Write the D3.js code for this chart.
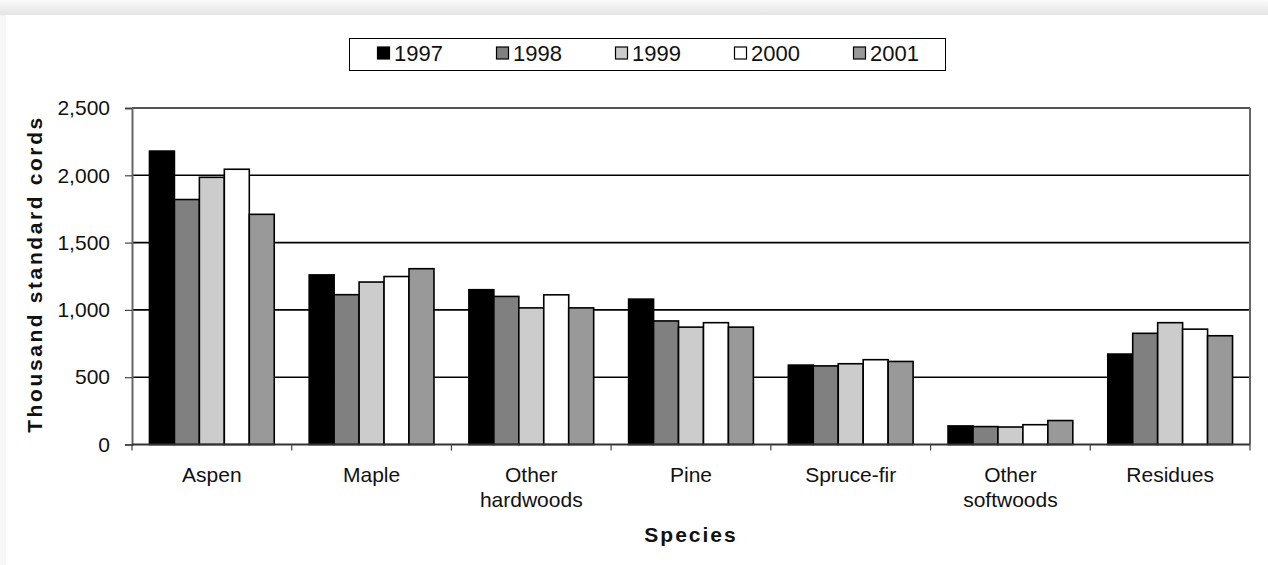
<!DOCTYPE html>
<html><head><meta charset="utf-8">
<script src="https://cdn.jsdelivr.net/npm/d3@7"></script>
<style>
html,body{margin:0;padding:0;background:#fff;}
svg{display:block;font-family:"Liberation Sans",Arial,sans-serif;}
</style></head>
<body><svg id="c" width="1268" height="565"></svg>
<script>
const categories = [["Aspen"],["Maple"],["Other","hardwoods"],["Pine"],["Spruce-fir"],["Other","softwoods"],["Residues"]];
const years = ["1997","1998","1999","2000","2001"];
const v1997 = [2180, 1260, 1150, 1080, 590, 138, 672];
const v1998 = [1820, 1113, 1100, 918, 584, 133, 826];
const v1999 = [1985, 1207, 1015, 872, 600, 130, 905];
const v2000 = [2045, 1248, 1112, 905, 630, 147, 857];
const v2001 = [1710, 1306, 1015, 872, 617, 178, 808];
const yTicks = [0, 500, 1000, 1500, 2000, 2500];
const colors = ["#000000","#808080","#cccccc","#ffffff","#999999"];

const series = [v1997, v1998, v1999, v2000, v2001];
const catKeys = categories.map(c => c.join(" "));

const svg = d3.select("#c");
const defs = svg.append("defs");
const g1 = defs.append("linearGradient").attr("id","topShade").attr("x1",0).attr("x2",0).attr("y1",0).attr("y2",1);
g1.append("stop").attr("offset","0%").attr("stop-color","#fbfbfb");
g1.append("stop").attr("offset","100%").attr("stop-color","#e4e4e4");
svg.append("rect").attr("x",0).attr("y",0).attr("width",1268).attr("height",565).attr("fill","#f6f6f6");
svg.append("rect").attr("x",0).attr("y",0).attr("width",1268).attr("height",15).attr("fill","url(#topShade)");
svg.append("rect").attr("x",6).attr("y",15).attr("width",1262).attr("height",550).attr("fill","#ffffff");

const pLeft = 132, pRight = 1250, pTop = 108, pBottom = 444.5;
const x = d3.scaleBand().domain(catKeys).range([pLeft, pRight]).paddingInner(0).paddingOuter(0);
const bw = x.bandwidth();
const barW = bw / 6.4;
const xi = d3.scaleBand().domain(years).range([(bw - 5*barW)/2, (bw + 5*barW)/2]);
const y = d3.scaleLinear().domain([0, 2500]).range([pBottom, pTop]);

// gridlines
svg.append("g").selectAll("line").data(yTicks.filter(t => t > 0 && t < 2500)).join("line")
  .attr("x1", pLeft).attr("x2", pRight).attr("y1", d => y(d)).attr("y2", d => y(d))
  .attr("stroke", "#000").attr("stroke-width", 1.6);

// plot border top & right
svg.append("line").attr("x1",pLeft).attr("x2",pRight).attr("y1",pTop).attr("y2",pTop).attr("stroke","#555").attr("stroke-width",2);
svg.append("line").attr("x1",pRight).attr("x2",pRight).attr("y1",pTop).attr("y2",pBottom).attr("stroke","#666").attr("stroke-width",2);

// bars
const groups = svg.append("g").selectAll("g").data(catKeys).join("g")
  .attr("transform", d => `translate(${x(d)},0)`);
groups.selectAll("rect").data((d, i) => years.map((yr, j) => ({yr, j, v: series[j][i]}))).join("rect")
  .attr("x", d => xi(d.yr)).attr("width", xi.bandwidth())
  .attr("y", d => y(d.v)).attr("height", d => y(0) - y(d.v))
  .attr("fill", d => colors[d.j]).attr("stroke", "#000").attr("stroke-width", 1.6);

// y axis
const yAxis = d3.axisLeft(y).tickValues(yTicks).tickSize(7).tickPadding(15).tickFormat(d3.format(","));
const ya = svg.append("g").attr("transform", `translate(${pLeft},0)`).call(yAxis);
ya.select(".domain").attr("stroke", "#666").attr("stroke-width", 2);
ya.selectAll(".tick line").attr("stroke", "#444").attr("stroke-width", 1.2);
ya.selectAll(".tick text").attr("font-size", 21).attr("fill", "#111").attr("font-family", "Liberation Sans, Arial, sans-serif");

// x axis
const xTickPos = catKeys.map(k => x(k)).concat([pRight]);
svg.append("line").attr("x1", pLeft).attr("x2", pRight).attr("y1", pBottom).attr("y2", pBottom).attr("stroke", "#333").attr("stroke-width", 2);
svg.append("g").selectAll("line").data(xTickPos).join("line")
  .attr("x1", d => d).attr("x2", d => d).attr("y1", pBottom).attr("y2", pBottom + 6)
  .attr("stroke", "#444").attr("stroke-width", 1.2);
const lbl = svg.append("g").selectAll("text").data(categories).join("text")
  .attr("x", (d, i) => x(catKeys[i]) + bw/2).attr("y", 482)
  .attr("text-anchor", "middle").attr("font-size", 21).attr("fill", "#111");
lbl.selectAll("tspan").data(d => d).join("tspan")
  .attr("x", function(){ return this.parentNode.getAttribute("x"); })
  .attr("dy", (d, i) => i === 0 ? 0 : 24.5).text(d => d);

// axis titles
svg.append("text").attr("x", (pLeft+pRight)/2).attr("y", 542).attr("text-anchor", "middle")
  .attr("font-size", 21).attr("font-weight", "bold").attr("letter-spacing", "2px").attr("fill", "#111").text("Species");
svg.append("text").attr("transform", "translate(42,274) rotate(-90)").attr("text-anchor", "middle")
  .attr("font-size", 21).attr("font-weight", "bold").attr("letter-spacing", "2.6px").attr("fill", "#111").text("Thousand standard cords");

// legend
const lg = svg.append("g");
lg.append("rect").attr("x", 349.5).attr("y", 38.5).attr("width", 596).attr("height", 32).attr("fill", "#fff").attr("stroke", "#000").attr("stroke-width", 1);
const lx = d3.scalePoint().domain(years).range([377, 853]);
const li = lg.selectAll("g").data(years).join("g").attr("transform", d => `translate(${lx(d)},0)`);
li.append("rect").attr("x", 0.5).attr("y", 47).attr("width", 12).attr("height", 12)
  .attr("fill", (d, i) => colors[i]).attr("stroke", "#000").attr("stroke-width", 1.2);
li.append("text").attr("x", 17).attr("y", 61).attr("font-size", 22).attr("fill", "#111").text(d => d);
</script>
</body></html>
